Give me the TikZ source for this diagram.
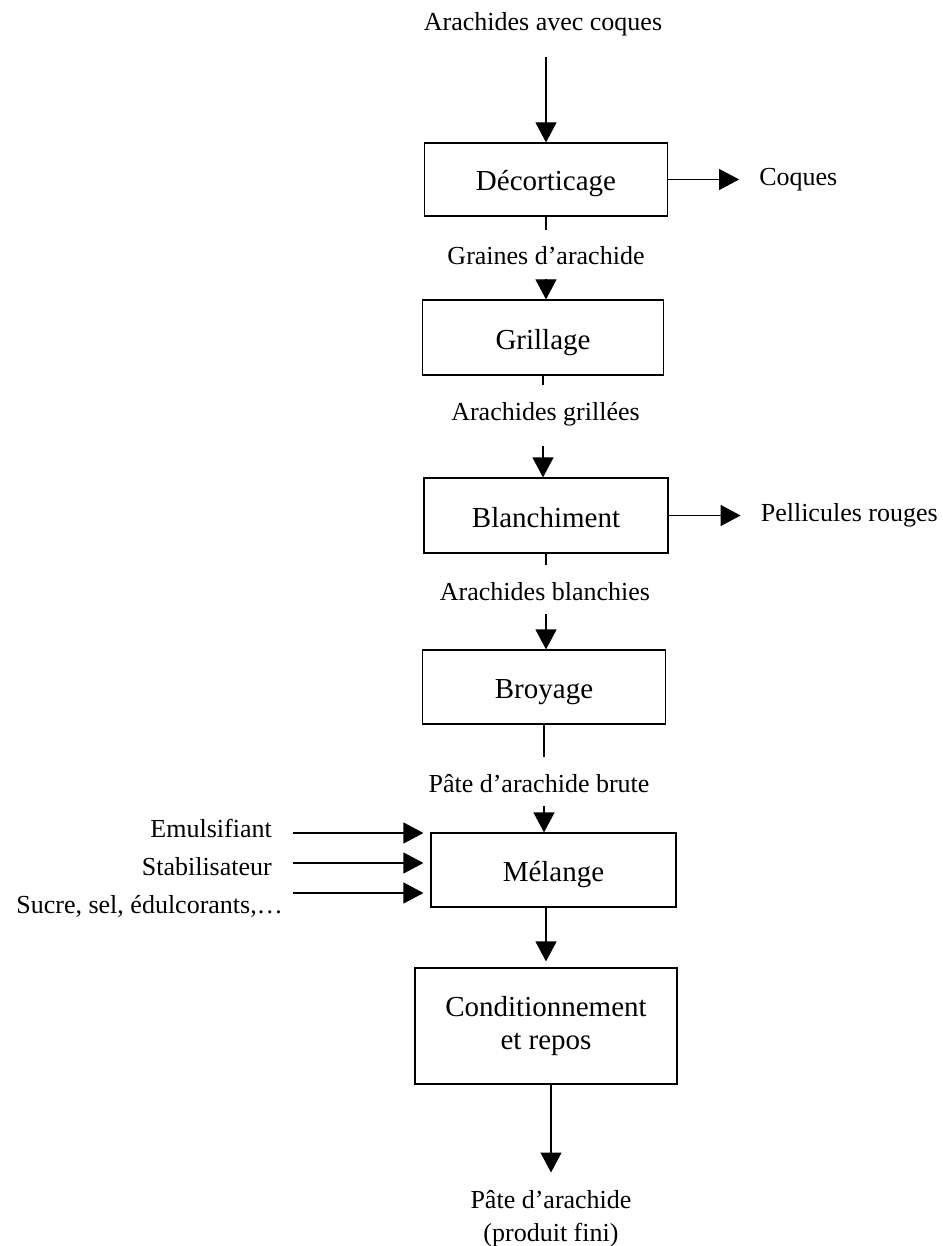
\documentclass[tikz,border=0pt]{standalone}
\usepackage{fontspec}
\setmainfont{Liberation Serif}
\usetikzlibrary{positioning,arrows.meta}

\tikzset{
  etape/.style={draw, line width=1.2pt, font=\fontsize{29}{33}\selectfont, align=center, inner sep=0pt, text height=23pt, text depth=0pt},
  flux/.style={font=\fontsize{26}{33}\selectfont, inner sep=0pt, text height=18pt, text depth=6pt},
  fl/.style={line width=1.2pt, -{Triangle[length=20pt,width=21pt]}},
  bout/.style={line width=1.2pt, shorten >=17pt},
}

\begin{document}
\begin{tikzpicture}[x=1pt,y=-1pt]
\useasboundingbox (0,0) rectangle (942,1246);

% Etapes
\node[etape, minimum width=243pt, minimum height=73pt] (dec) at (546,179.5) {Décorticage};
\node[etape, minimum width=241pt, minimum height=75pt] (gri) at (543,337.5) {Grillage};
\node[etape, minimum width=244pt, minimum height=75pt] (bla) at (546,515.5) {Blanchiment};
\node[etape, minimum width=243pt, minimum height=74pt] (bro) at (544,687) {Broyage};
\node[etape, minimum width=245pt, minimum height=74pt] (mel) at (553.5,870) {Mélange};
\node[etape, text height=, text depth=, minimum width=262pt, minimum height=116pt] (cond) at (546,1026) {Conditionnement\\et repos};

% Produits
\node[flux] (arach) at (543,25) {Arachides avec coques};
\node[flux] (graines) at (546,259) {Graines d’arachide};
\node[flux] (grillees) at (545.5,414) {Arachides grillées};
\node[flux] (blanchies) at (545,594) {Arachides blanchies};
\node[flux] (brute) at (539,786) {Pâte d’arachide brute};
\node[flux, text height=, text depth=, align=center] (fini) at (551,1219) {Pâte d’arachide\\(produit fini)};

\node[flux, right=91pt of dec] (coques) {Coques};
\node[flux, right=92pt of bla] (pellicules) {Pellicules rouges};

\node[flux, anchor=east] (emul) at (272,831) {Emulsifiant};
\node[flux, anchor=east] (stab) at (272,869) {Stabilisateur};
\node[flux, anchor=east] (sucre) at (283,907) {Sucre, sel, édulcorants,…};
\coordinate (e1) at (293,833);
\coordinate (e2) at (293,863);
\coordinate (e3) at (293,893);

% Liaisons
\draw[fl, shorten <=20pt] (dec.north |- arach.south) -- (dec.north);
\draw[bout] (dec.south) -- (dec.south |- graines.north);
\draw[fl, shorten <=8pt] (dec.south |- graines.south) -- (dec.south |- gri.north);
\draw[bout] (gri.south) -- (gri.south |- grillees.north);
\draw[fl, shorten <=20pt] (gri.south |- grillees.south) -- (gri.south |- bla.north);
\draw[bout] (bla.south) -- (bla.south |- blanchies.north);
\draw[fl, shorten <=8pt] (bla.south |- blanchies.south) -- (bla.south |- bro.north);
\draw[bout] (bro.south) -- (bro.south |- brute.north);
\draw[fl, shorten <=8pt] (bro.south |- brute.south) -- (bro.south |- mel.north);
\draw[fl, shorten >=6pt] (cond.north |- mel.south) -- (cond.north);
\draw[fl, shorten >=18pt] (fini.north |- cond.south) -- (fini.north);

\draw[fl, shorten >=20pt] (dec.east) -- (coques.west);
\draw[fl, shorten >=20pt] (bla.east) -- (pellicules.west);

\draw[fl, shorten >=7pt] (e1) -- (e1 -| mel.west);
\draw[fl, shorten >=7pt] (e2) -- (e2 -| mel.west);
\draw[fl, shorten >=7pt] (e3) -- (e3 -| mel.west);

\end{tikzpicture}
\end{document}
